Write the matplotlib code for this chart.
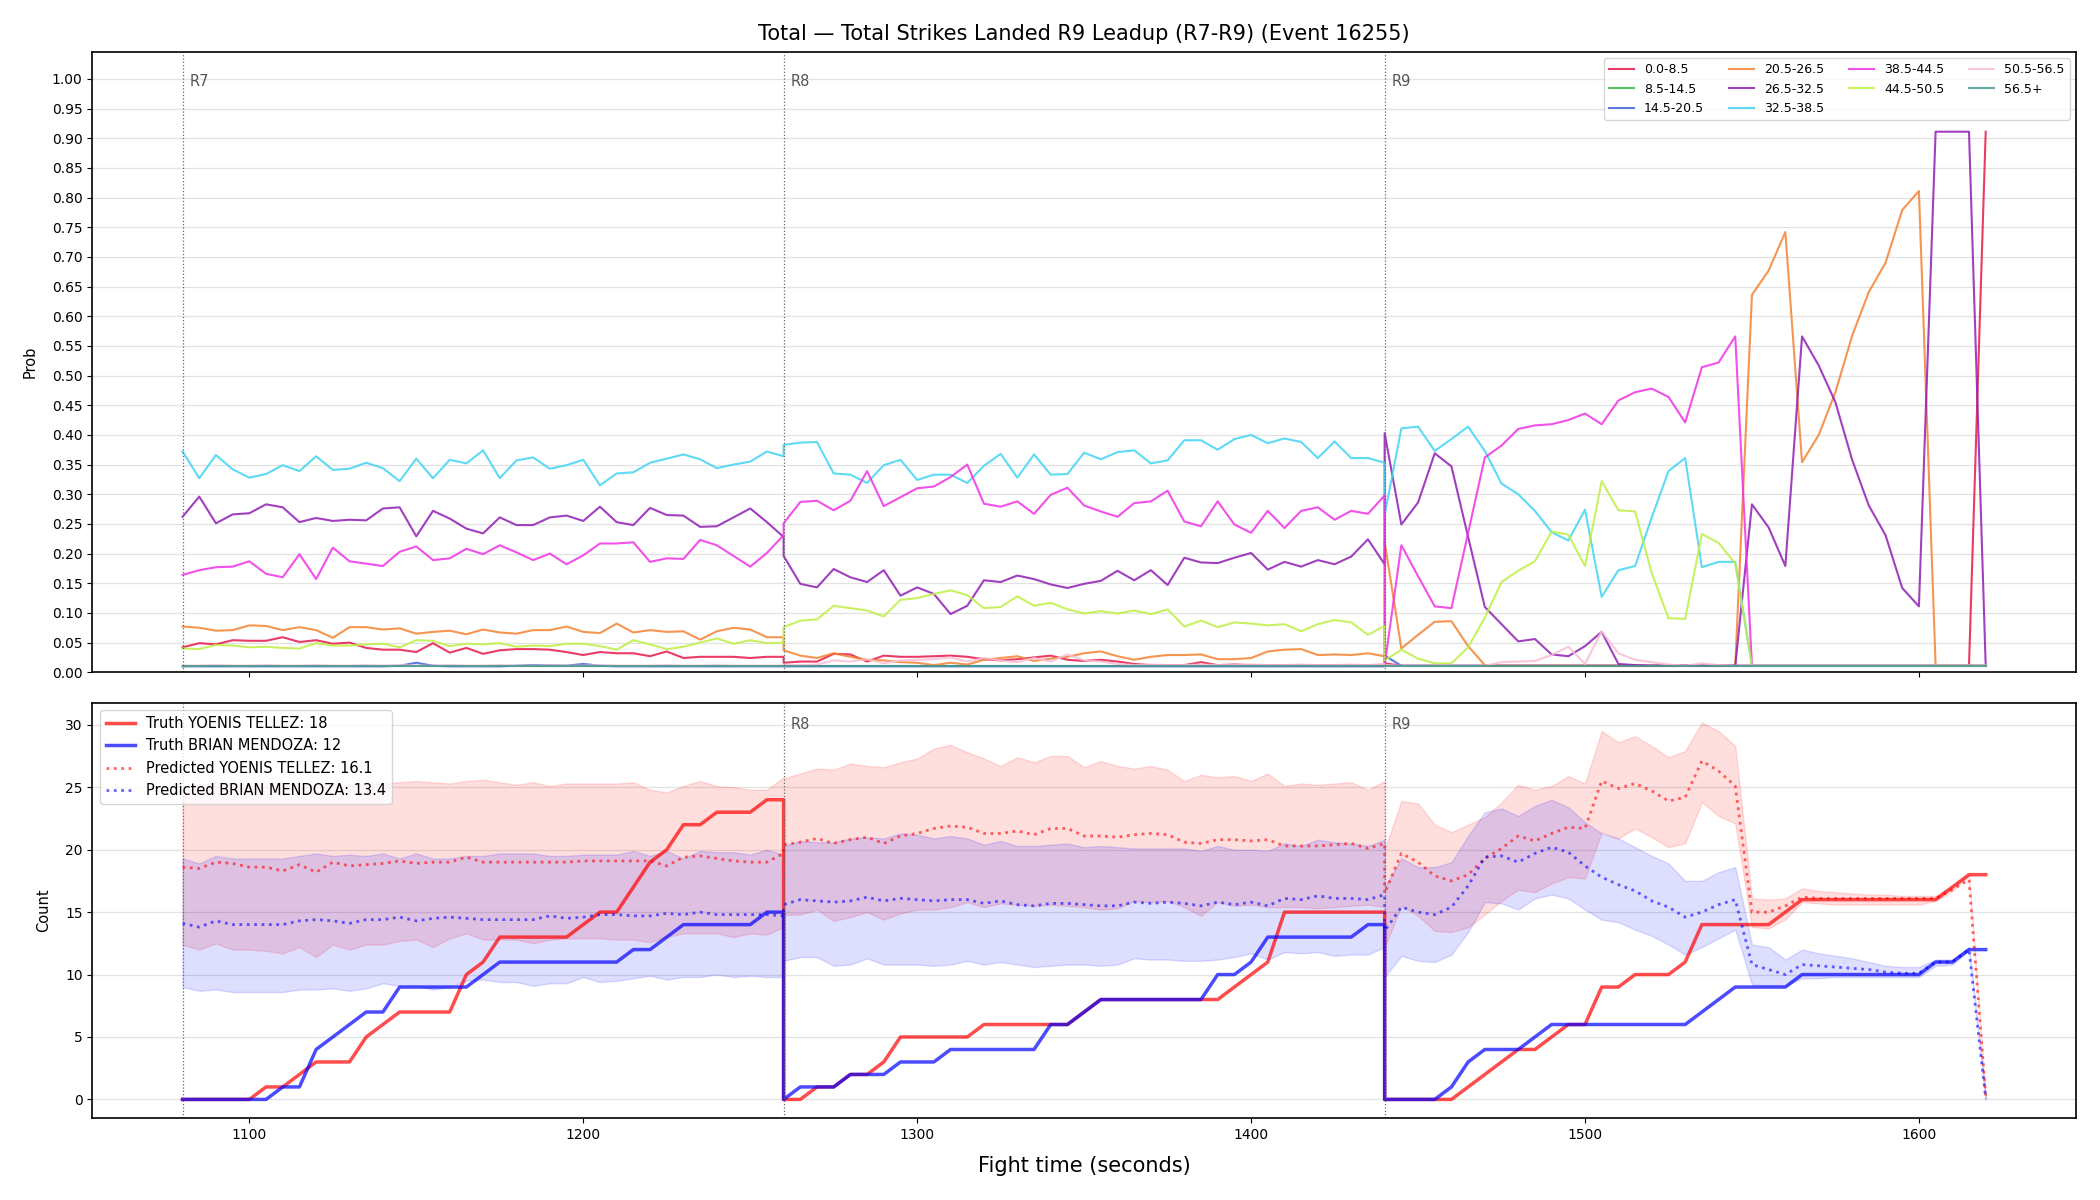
import numpy as np
import matplotlib
matplotlib.use('Agg')
import matplotlib.pyplot as plt

# Время: три раунда по 180 секунд, шаг 5 секунд (границы раундов повторяются)
round_starts = [1080, 1260, 1440]
round_names = ['R7', 'R8', 'R9']
t_r7 = np.arange(1080, 1261, 5)
t_r8 = np.arange(1260, 1441, 5)
t_r9 = np.arange(1440, 1621, 5)
t = np.concatenate([t_r7, t_r8, t_r9])

bins = ['0.0-8.5', '8.5-14.5', '14.5-20.5', '20.5-26.5', '26.5-32.5',
        '32.5-38.5', '38.5-44.5', '44.5-50.5', '50.5-56.5', '56.5+']
bin_colors = ['#e6194b', '#3cb44b', '#4363d8', '#f58231', '#911eb4',
              '#42d4f4', '#f032e6', '#bfef45', '#fabed4', '#469990']

# Вероятности по корзинам (R7 | R8 | R9)
p_0 = [0.042, 0.049, 0.047, 0.054, 0.053, 0.053, 0.059, 0.051, 0.054, 0.048, 0.050, 0.041, 0.038, 0.038, 0.034, 0.049, 0.033, 0.041, 0.031, 0.037, 0.039, 0.039, 0.038, 0.034, 0.029, 0.034, 0.032, 0.032, 0.027, 0.035, 0.024, 0.026, 0.026, 0.026, 0.024, 0.026, 0.026,
       0.016, 0.018, 0.018, 0.031, 0.030, 0.018, 0.028, 0.026, 0.026, 0.027, 0.028, 0.026, 0.022, 0.020, 0.022, 0.025, 0.028, 0.021, 0.019, 0.021, 0.018, 0.014, 0.012, 0.012, 0.012, 0.017, 0.012, 0.013, 0.012, 0.012, 0.012, 0.012, 0.012, 0.012, 0.012, 0.012, 0.012,
       0.015, 0.011, 0.011, 0.011, 0.011, 0.011, 0.011, 0.011, 0.011, 0.011, 0.011, 0.011, 0.011, 0.011, 0.011, 0.011, 0.011, 0.011, 0.011, 0.011, 0.011, 0.011, 0.011, 0.011, 0.011, 0.011, 0.011, 0.011, 0.011, 0.011, 0.011, 0.011, 0.011, 0.011, 0.011, 0.011, 0.911]
p_1 = [0.010, 0.010, 0.010, 0.010, 0.010, 0.010, 0.010, 0.010, 0.010, 0.010, 0.010, 0.010, 0.010, 0.010, 0.010, 0.010, 0.010, 0.010, 0.010, 0.010, 0.010, 0.010, 0.010, 0.010, 0.010, 0.010, 0.010, 0.010, 0.010, 0.010, 0.010, 0.010, 0.010, 0.010, 0.010, 0.010, 0.010,
       0.010, 0.010, 0.010, 0.010, 0.010, 0.010, 0.010, 0.010, 0.010, 0.010, 0.010, 0.010, 0.010, 0.010, 0.010, 0.010, 0.010, 0.010, 0.010, 0.010, 0.010, 0.010, 0.010, 0.010, 0.010, 0.010, 0.010, 0.010, 0.010, 0.010, 0.010, 0.010, 0.010, 0.010, 0.010, 0.010, 0.010,
       0.010, 0.010, 0.010, 0.010, 0.010, 0.010, 0.010, 0.010, 0.010, 0.010, 0.010, 0.010, 0.010, 0.010, 0.010, 0.010, 0.010, 0.010, 0.010, 0.010, 0.010, 0.010, 0.010, 0.010, 0.010, 0.010, 0.010, 0.010, 0.010, 0.010, 0.010, 0.010, 0.010, 0.010, 0.010, 0.010, 0.010]
p_2 = [0.010, 0.010, 0.010, 0.010, 0.010, 0.010, 0.010, 0.010, 0.010, 0.010, 0.010, 0.010, 0.010, 0.011, 0.016, 0.011, 0.010, 0.010, 0.010, 0.010, 0.011, 0.012, 0.012, 0.011, 0.014, 0.011, 0.010, 0.010, 0.010, 0.010, 0.010, 0.010, 0.010, 0.010, 0.010, 0.010, 0.010,
       0.010, 0.010, 0.010, 0.010, 0.010, 0.010, 0.010, 0.010, 0.010, 0.010, 0.010, 0.010, 0.010, 0.010, 0.010, 0.010, 0.010, 0.010, 0.010, 0.010, 0.010, 0.010, 0.010, 0.010, 0.010, 0.010, 0.010, 0.010, 0.010, 0.010, 0.010, 0.010, 0.010, 0.010, 0.010, 0.010, 0.010,
       0.028, 0.011, 0.011, 0.011, 0.011, 0.011, 0.011, 0.011, 0.011, 0.011, 0.011, 0.011, 0.011, 0.011, 0.011, 0.011, 0.011, 0.011, 0.011, 0.011, 0.011, 0.011, 0.011, 0.011, 0.011, 0.011, 0.011, 0.011, 0.011, 0.011, 0.011, 0.011, 0.011, 0.011, 0.011, 0.011, 0.011]
p_3 = [0.077, 0.075, 0.070, 0.071, 0.079, 0.078, 0.071, 0.076, 0.071, 0.058, 0.076, 0.076, 0.072, 0.074, 0.065, 0.068, 0.070, 0.064, 0.072, 0.067, 0.065, 0.071, 0.071, 0.077, 0.068, 0.066, 0.082, 0.067, 0.071, 0.068, 0.069, 0.055, 0.069, 0.075, 0.072, 0.059, 0.059,
       0.037, 0.028, 0.024, 0.032, 0.026, 0.021, 0.020, 0.017, 0.016, 0.012, 0.016, 0.013, 0.021, 0.024, 0.027, 0.019, 0.023, 0.026, 0.032, 0.035, 0.027, 0.021, 0.026, 0.029, 0.029, 0.030, 0.022, 0.022, 0.024, 0.035, 0.038, 0.039, 0.029, 0.030, 0.029, 0.032, 0.027,
       0.220, 0.040, 0.063, 0.085, 0.086, 0.044, 0.012, 0.011, 0.011, 0.011, 0.011, 0.011, 0.011, 0.011, 0.011, 0.011, 0.011, 0.011, 0.011, 0.011, 0.011, 0.011, 0.636, 0.677, 0.742, 0.354, 0.400, 0.472, 0.567, 0.641, 0.690, 0.779, 0.811, 0.011, 0.011, 0.011, 0.011]
p_4 = [0.262, 0.296, 0.251, 0.266, 0.268, 0.283, 0.278, 0.253, 0.260, 0.255, 0.257, 0.256, 0.276, 0.278, 0.229, 0.272, 0.259, 0.242, 0.234, 0.261, 0.248, 0.248, 0.261, 0.264, 0.255, 0.279, 0.253, 0.248, 0.277, 0.265, 0.264, 0.245, 0.246, 0.261, 0.276, 0.253, 0.228,
       0.196, 0.149, 0.143, 0.174, 0.160, 0.152, 0.172, 0.129, 0.143, 0.132, 0.098, 0.112, 0.155, 0.152, 0.163, 0.157, 0.148, 0.142, 0.149, 0.154, 0.171, 0.155, 0.172, 0.147, 0.193, 0.185, 0.184, 0.193, 0.201, 0.173, 0.186, 0.178, 0.189, 0.182, 0.195, 0.224, 0.182,
       0.403, 0.249, 0.286, 0.369, 0.347, 0.228, 0.110, 0.081, 0.052, 0.056, 0.030, 0.027, 0.044, 0.068, 0.014, 0.012, 0.011, 0.011, 0.011, 0.011, 0.011, 0.011, 0.283, 0.244, 0.179, 0.566, 0.517, 0.455, 0.358, 0.281, 0.231, 0.142, 0.111, 0.911, 0.911, 0.911, 0.011]
p_5 = [0.372, 0.327, 0.366, 0.342, 0.328, 0.334, 0.349, 0.339, 0.364, 0.341, 0.343, 0.353, 0.344, 0.322, 0.360, 0.327, 0.358, 0.352, 0.374, 0.327, 0.357, 0.362, 0.343, 0.349, 0.358, 0.315, 0.335, 0.337, 0.353, 0.360, 0.367, 0.359, 0.344, 0.350, 0.355, 0.372, 0.364,
       0.383, 0.387, 0.388, 0.335, 0.333, 0.319, 0.349, 0.358, 0.324, 0.333, 0.333, 0.319, 0.348, 0.368, 0.328, 0.367, 0.333, 0.334, 0.370, 0.359, 0.371, 0.374, 0.352, 0.357, 0.391, 0.391, 0.375, 0.393, 0.400, 0.386, 0.394, 0.388, 0.361, 0.389, 0.361, 0.361, 0.353,
       0.265, 0.411, 0.414, 0.373, 0.393, 0.414, 0.373, 0.318, 0.300, 0.272, 0.236, 0.222, 0.274, 0.127, 0.172, 0.179, 0.261, 0.339, 0.361, 0.177, 0.186, 0.186, 0.011, 0.011, 0.011, 0.011, 0.011, 0.011, 0.011, 0.011, 0.011, 0.011, 0.011, 0.011, 0.011, 0.011, 0.011]
p_6 = [0.164, 0.172, 0.177, 0.178, 0.187, 0.166, 0.160, 0.199, 0.157, 0.210, 0.187, 0.183, 0.179, 0.203, 0.212, 0.189, 0.192, 0.208, 0.199, 0.214, 0.202, 0.189, 0.200, 0.182, 0.197, 0.217, 0.217, 0.219, 0.186, 0.192, 0.191, 0.223, 0.214, 0.196, 0.178, 0.201, 0.231,
       0.251, 0.287, 0.289, 0.273, 0.289, 0.339, 0.280, 0.295, 0.310, 0.313, 0.329, 0.350, 0.284, 0.279, 0.288, 0.267, 0.299, 0.311, 0.281, 0.271, 0.262, 0.285, 0.288, 0.306, 0.254, 0.246, 0.288, 0.249, 0.235, 0.272, 0.243, 0.272, 0.278, 0.257, 0.272, 0.267, 0.298,
       0.012, 0.214, 0.162, 0.111, 0.108, 0.235, 0.362, 0.382, 0.410, 0.416, 0.418, 0.425, 0.436, 0.418, 0.458, 0.472, 0.478, 0.464, 0.421, 0.514, 0.522, 0.566, 0.011, 0.011, 0.011, 0.011, 0.011, 0.011, 0.011, 0.011, 0.011, 0.011, 0.011, 0.011, 0.011, 0.011, 0.011]
p_7 = [0.040, 0.039, 0.046, 0.045, 0.042, 0.043, 0.041, 0.040, 0.049, 0.045, 0.045, 0.047, 0.048, 0.042, 0.054, 0.053, 0.044, 0.048, 0.047, 0.049, 0.043, 0.045, 0.044, 0.048, 0.048, 0.044, 0.038, 0.054, 0.047, 0.039, 0.043, 0.050, 0.057, 0.048, 0.054, 0.049, 0.050,
       0.076, 0.087, 0.089, 0.112, 0.108, 0.104, 0.094, 0.122, 0.125, 0.132, 0.138, 0.130, 0.108, 0.110, 0.128, 0.112, 0.117, 0.106, 0.099, 0.103, 0.099, 0.104, 0.098, 0.106, 0.077, 0.087, 0.076, 0.084, 0.082, 0.079, 0.081, 0.069, 0.081, 0.088, 0.084, 0.063, 0.078,
       0.020, 0.038, 0.023, 0.015, 0.015, 0.042, 0.092, 0.152, 0.171, 0.187, 0.237, 0.232, 0.179, 0.322, 0.273, 0.271, 0.167, 0.091, 0.090, 0.233, 0.218, 0.183, 0.011, 0.011, 0.011, 0.011, 0.011, 0.011, 0.011, 0.011, 0.011, 0.011, 0.011, 0.011, 0.011, 0.011, 0.011]
p_8 = [0.011, 0.011, 0.012, 0.011, 0.011, 0.012, 0.011, 0.011, 0.012, 0.011, 0.011, 0.012, 0.011, 0.012, 0.011, 0.011, 0.012, 0.011, 0.011, 0.012, 0.011, 0.011, 0.012, 0.011, 0.011, 0.012, 0.011, 0.011, 0.011, 0.012, 0.011, 0.011, 0.012, 0.011, 0.011, 0.011, 0.011,
       0.012, 0.012, 0.013, 0.020, 0.018, 0.022, 0.015, 0.020, 0.021, 0.022, 0.025, 0.018, 0.024, 0.020, 0.017, 0.024, 0.018, 0.030, 0.020, 0.018, 0.014, 0.012, 0.013, 0.012, 0.012, 0.013, 0.012, 0.012, 0.013, 0.012, 0.012, 0.013, 0.012, 0.012, 0.013, 0.012, 0.014,
       0.012, 0.011, 0.011, 0.011, 0.011, 0.011, 0.011, 0.017, 0.018, 0.019, 0.029, 0.043, 0.014, 0.069, 0.032, 0.021, 0.017, 0.013, 0.011, 0.015, 0.012, 0.011, 0.011, 0.011, 0.011, 0.011, 0.011, 0.011, 0.011, 0.011, 0.011, 0.011, 0.011, 0.011, 0.011, 0.011, 0.011]
p_9 = [0.010, 0.010, 0.010, 0.010, 0.010, 0.010, 0.010, 0.010, 0.010, 0.010, 0.010, 0.010, 0.010, 0.010, 0.010, 0.010, 0.010, 0.010, 0.010, 0.010, 0.010, 0.010, 0.010, 0.010, 0.010, 0.010, 0.010, 0.010, 0.010, 0.010, 0.010, 0.010, 0.010, 0.010, 0.010, 0.010, 0.010,
       0.010, 0.010, 0.010, 0.010, 0.010, 0.010, 0.010, 0.010, 0.010, 0.010, 0.010, 0.010, 0.010, 0.010, 0.010, 0.010, 0.010, 0.010, 0.010, 0.010, 0.010, 0.010, 0.010, 0.010, 0.010, 0.010, 0.010, 0.010, 0.010, 0.010, 0.010, 0.010, 0.010, 0.010, 0.010, 0.010, 0.010,
       0.010, 0.010, 0.010, 0.010, 0.010, 0.010, 0.010, 0.010, 0.010, 0.010, 0.010, 0.010, 0.010, 0.010, 0.010, 0.010, 0.010, 0.010, 0.010, 0.010, 0.010, 0.010, 0.010, 0.010, 0.010, 0.010, 0.010, 0.010, 0.010, 0.010, 0.010, 0.010, 0.010, 0.010, 0.010, 0.010, 0.010]
probs = [p_0, p_1, p_2, p_3, p_4, p_5, p_6, p_7, p_8, p_9]

# Нижний график: фактические и предсказанные удары
name_a = 'YOENIS TELLEZ'
name_b = 'BRIAN MENDOZA'
truth_a = [0, 0, 0, 0, 0, 1, 1, 2, 3, 3, 3, 5, 6, 7, 7, 7, 7, 10, 11, 13, 13, 13, 13, 13, 14, 15, 15, 17, 19, 20, 22, 22, 23, 23, 23, 24, 24,
           0, 0, 1, 1, 2, 2, 3, 5, 5, 5, 5, 5, 6, 6, 6, 6, 6, 6, 7, 8, 8, 8, 8, 8, 8, 8, 8, 9, 10, 11, 15, 15, 15, 15, 15, 15, 15,
           0, 0, 0, 0, 0, 1, 2, 3, 4, 4, 5, 6, 6, 9, 9, 10, 10, 10, 11, 14, 14, 14, 14, 14, 15, 16, 16, 16, 16, 16, 16, 16, 16, 16, 17, 18, 18]
truth_b = [0, 0, 0, 0, 0, 0, 1, 1, 4, 5, 6, 7, 7, 9, 9, 9, 9, 9, 10, 11, 11, 11, 11, 11, 11, 11, 11, 12, 12, 13, 14, 14, 14, 14, 14, 15, 15,
           0, 1, 1, 1, 2, 2, 2, 3, 3, 3, 4, 4, 4, 4, 4, 4, 6, 6, 7, 8, 8, 8, 8, 8, 8, 8, 10, 10, 11, 13, 13, 13, 13, 13, 13, 14, 14,
           0, 0, 0, 0, 1, 3, 4, 4, 4, 5, 6, 6, 6, 6, 6, 6, 6, 6, 6, 7, 8, 9, 9, 9, 9, 10, 10, 10, 10, 10, 10, 10, 10, 11, 11, 12, 12]
pred_a = [18.6, 18.5, 19.0, 18.9, 18.6, 18.6, 18.3, 18.8, 18.2, 19.0, 18.7, 18.8, 18.9, 19.1, 18.9, 19.0, 19.0, 19.4, 19.0, 19.0, 19.0, 19.0, 19.0, 19.0, 19.1, 19.1, 19.1, 19.1, 19.1, 18.7, 19.4, 19.5, 19.3, 19.1, 19.0, 19.0, 19.7,
          20.4, 20.6, 20.9, 20.5, 20.8, 21.0, 20.5, 21.1, 21.3, 21.7, 21.9, 21.8, 21.3, 21.3, 21.5, 21.2, 21.7, 21.7, 21.1, 21.1, 21.0, 21.2, 21.3, 21.2, 20.6, 20.5, 20.8, 20.8, 20.7, 20.8, 20.3, 20.3, 20.3, 20.4, 20.5, 20.1, 20.5,
          16.5, 19.7, 19.0, 17.9, 17.5, 18.0, 19.3, 20.1, 21.1, 20.7, 21.3, 21.8, 21.7, 25.5, 24.9, 25.3, 24.7, 23.9, 24.2, 27.1, 26.3, 25.1, 15.0, 15.0, 15.5, 16.2, 16.1, 16.1, 16.1, 16.1, 16.1, 16.1, 16.1, 16.1, 16.8, 17.6, 0.3]
pred_b = [14.1, 13.8, 14.3, 14.0, 14.0, 14.0, 14.0, 14.3, 14.4, 14.3, 14.1, 14.4, 14.4, 14.6, 14.3, 14.5, 14.6, 14.5, 14.4, 14.4, 14.4, 14.4, 14.7, 14.5, 14.6, 14.8, 14.8, 14.7, 14.7, 14.9, 14.8, 15.0, 14.8, 14.8, 14.8, 14.8, 14.7,
          15.6, 16.0, 15.9, 15.8, 15.9, 16.2, 15.9, 16.1, 16.0, 15.9, 16.0, 16.0, 15.7, 15.9, 15.6, 15.5, 15.7, 15.7, 15.6, 15.5, 15.5, 15.8, 15.7, 15.8, 15.7, 15.5, 15.8, 15.6, 15.8, 15.5, 16.1, 16.0, 16.3, 16.1, 16.1, 16.0, 16.4,
          13.5, 15.4, 15.0, 14.8, 15.4, 17.1, 19.4, 19.5, 19.0, 19.7, 20.2, 19.8, 18.7, 17.8, 17.2, 16.7, 15.9, 15.4, 14.6, 15.0, 15.6, 16.0, 10.8, 10.4, 10.0, 10.8, 10.7, 10.6, 10.5, 10.4, 10.2, 10.1, 10.1, 11.0, 11.0, 12.0, 0.1]
band_a_hi = [25.0, 25.2, 25.4, 25.3, 25.2, 25.3, 25.4, 25.3, 25.2, 25.3, 25.2, 25.3, 25.3, 25.4, 25.5, 25.4, 25.3, 25.5, 25.6, 25.4, 25.2, 25.4, 25.1, 25.3, 25.3, 25.3, 25.3, 25.4, 24.8, 24.6, 25.1, 25.5, 25.1, 25.0, 24.8, 24.8, 25.8,
             25.7, 26.1, 26.5, 26.4, 26.9, 26.7, 26.6, 27.0, 27.3, 28.1, 28.4, 27.8, 27.3, 26.7, 27.4, 27.0, 27.5, 27.5, 26.6, 27.1, 26.7, 26.5, 26.7, 26.4, 25.5, 26.0, 25.8, 25.9, 25.5, 26.1, 25.1, 25.3, 25.2, 25.3, 25.4, 24.8, 25.5,
             20.0, 23.9, 23.7, 22.0, 21.4, 22.0, 22.6, 23.8, 25.2, 24.8, 25.1, 25.9, 25.3, 29.5, 28.6, 29.1, 28.3, 27.4, 27.9, 30.2, 29.5, 28.3, 16.1, 16.0, 16.1, 16.9, 16.7, 16.6, 16.5, 16.4, 16.4, 16.3, 16.3, 16.3, 17.1, 18.0, 0.1]
band_a_lo = [12.4, 12.0, 12.5, 12.0, 12.0, 11.9, 11.7, 12.2, 11.4, 12.4, 12.0, 12.4, 12.4, 12.7, 12.8, 12.2, 12.9, 13.3, 12.8, 12.8, 12.8, 12.5, 12.8, 12.9, 12.9, 12.9, 12.8, 12.8, 12.6, 13.0, 13.3, 13.3, 13.3, 13.0, 13.3, 13.2, 13.8,
             14.8, 14.8, 15.2, 14.3, 14.6, 15.0, 14.4, 14.9, 15.2, 15.2, 15.4, 15.8, 15.4, 15.7, 15.6, 15.5, 15.6, 15.5, 15.4, 15.2, 15.3, 15.9, 15.8, 15.9, 15.4, 14.7, 15.8, 15.5, 15.6, 15.4, 15.4, 15.4, 15.3, 15.4, 15.5, 15.6, 15.4,
             12.2, 15.5, 14.7, 13.5, 13.4, 13.8, 14.8, 15.9, 16.8, 16.6, 17.3, 17.8, 17.7, 21.4, 20.9, 21.7, 21.0, 20.2, 20.5, 23.8, 22.7, 22.1, 13.8, 13.7, 14.4, 15.8, 15.7, 15.6, 15.6, 15.6, 15.6, 15.6, 15.6, 15.9, 16.7, 17.9, 0.0]
band_b_hi = [19.3, 18.9, 19.5, 19.3, 19.3, 19.3, 19.3, 19.5, 19.7, 19.5, 19.6, 19.5, 19.7, 19.3, 19.7, 19.3, 19.3, 19.5, 19.5, 19.7, 19.7, 19.7, 19.5, 19.5, 19.6, 19.6, 19.6, 19.9, 19.5, 19.9, 19.3, 19.9, 19.8, 19.8, 19.6, 20.0, 19.6,
             20.3, 20.7, 20.6, 20.6, 20.9, 21.0, 20.9, 21.3, 21.2, 20.9, 21.1, 20.9, 20.4, 20.7, 20.3, 20.3, 20.4, 20.5, 20.2, 20.3, 20.2, 20.1, 20.1, 20.1, 20.1, 19.9, 20.3, 20.0, 20.0, 19.9, 20.5, 20.3, 20.8, 20.6, 20.5, 20.3, 20.8,
             17.0, 19.3, 18.6, 18.6, 19.0, 21.1, 23.0, 23.3, 22.7, 23.5, 24.0, 23.4, 22.2, 21.3, 20.9, 20.2, 19.5, 18.9, 17.5, 17.5, 18.2, 18.6, 12.4, 12.2, 11.2, 12.0, 11.7, 11.5, 11.3, 11.0, 10.7, 10.6, 10.6, 11.2, 11.2, 12.2, 0.1]
band_b_lo = [9.0, 8.7, 8.8, 8.6, 8.6, 8.6, 8.6, 8.8, 8.8, 8.9, 8.7, 8.9, 9.3, 9.1, 9.1, 8.8, 9.0, 9.5, 9.6, 9.4, 9.4, 9.1, 9.3, 9.3, 9.8, 9.4, 9.5, 9.7, 9.9, 9.6, 9.8, 9.8, 10.0, 9.8, 9.9, 9.8, 9.8,
             11.1, 11.4, 11.4, 10.7, 10.8, 11.3, 10.8, 10.8, 10.8, 10.7, 10.8, 11.1, 10.8, 11.0, 10.8, 10.6, 10.7, 10.8, 10.8, 10.7, 10.8, 11.3, 11.2, 11.2, 11.1, 11.1, 11.2, 11.4, 11.7, 11.2, 11.8, 11.7, 11.8, 11.5, 11.6, 11.6, 12.2,
             9.8, 11.5, 11.1, 11.0, 11.6, 13.4, 15.8, 15.7, 15.2, 16.1, 16.4, 16.1, 15.2, 14.4, 14.2, 13.6, 13.1, 12.4, 11.6, 12.2, 12.9, 13.6, 9.2, 9.1, 9.1, 9.7, 9.7, 9.8, 9.8, 9.8, 9.8, 9.8, 9.8, 10.7, 10.8, 11.9, 0.0]

fig = plt.figure(figsize=(21, 12), dpi=100)
ax1 = fig.add_axes([0.044, 0.4398, 0.9445, 0.5167])
ax2 = fig.add_axes([0.044, 0.0682, 0.9445, 0.346], sharex=ax1)

# Верхний график: вероятности корзин
for label, color, p in zip(bins, bin_colors, probs):
    ax1.plot(t, p, color=color, lw=1.5, alpha=0.85, label=label)

ax1.set_ylim(0, 1.045)
ax1.set_yticks(np.arange(0, 1.001, 0.05))
ax1.set_ylabel('Prob', fontsize=10.5, labelpad=10)
ax1.grid(axis='y', color='#e2e2e2', lw=0.9)
ax1.set_axisbelow(True)
ax1.legend(loc='upper right', ncol=4, fontsize=9, framealpha=0.8)
ax1.tick_params(labelbottom=False)
ax1.set_title('Total — Total Strikes Landed R9 Leadup (R7-R9) (Event 16255)', fontsize=15, pad=9)

# Нижний график: счёт ударов
ax2.fill_between(t, band_a_lo, band_a_hi, color='red', alpha=0.13, lw=1)
ax2.fill_between(t, band_b_lo, band_b_hi, color='blue', alpha=0.13, lw=1)
ax2.plot(t, truth_a, color='red', lw=2.5, alpha=0.7, label=f'Truth {name_a}: {truth_a[-1]}')
ax2.plot(t, truth_b, color='blue', lw=2.5, alpha=0.7, label=f'Truth {name_b}: {truth_b[-1]}')
ax2.plot(t, pred_a, color='red', lw=2, ls=':', alpha=0.6, label=f'Predicted {name_a}: 16.1')
ax2.plot(t, pred_b, color='blue', lw=2, ls=':', alpha=0.6, label=f'Predicted {name_b}: 13.4')

ax2.set_ylim(-1.5, 31.75)
ax2.set_yticks(range(0, 31, 5))
ax2.set_ylabel('Count', fontsize=10.5, labelpad=10)
ax2.grid(axis='y', color='#e2e2e2', lw=0.9)
ax2.set_axisbelow(True)
ax2.legend(loc='upper left', fontsize=10.5, framealpha=0.8)
ax2.set_xlim(1053, 1647)
ax2.set_xticks(range(1100, 1601, 100))
ax2.set_xlabel('Fight time (seconds)', fontsize=15, labelpad=10)

# Границы раундов
for ax in (ax1, ax2):
    for start, name in zip(round_starts, round_names):
        ax.axvline(start, color='#666666', ls=':', lw=0.9)
        if ax is ax1 or name != 'R7':
            ax.text(start + 2, 0.965, name, transform=ax.get_xaxis_transform(),
                    va='top', ha='left', fontsize=10.5, color='#555555')
    ax.tick_params(labelsize=10)
    for s in ax.spines.values():
        s.set_linewidth(1.2)

fig.savefig('out.png', dpi=100)
